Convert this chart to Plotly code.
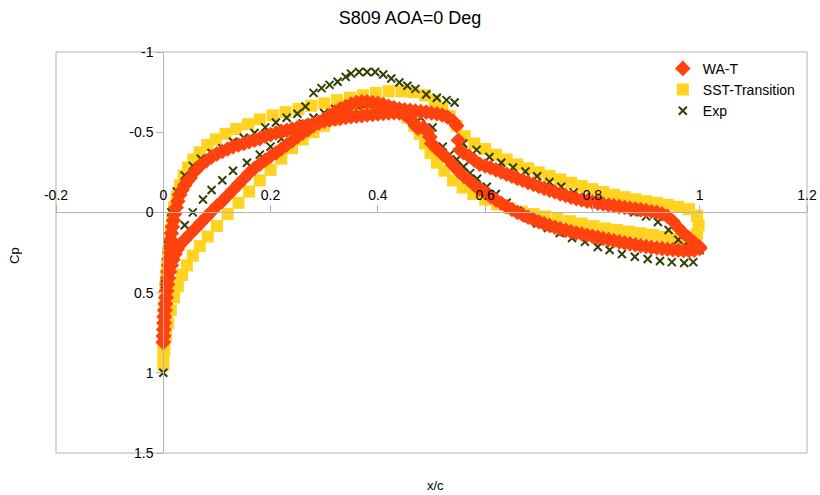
import plotly.graph_objects as go

# ---- WA-T (CFD) surface pressure, suction side ----
wat_upper_x = [0.0, 0.0005, 0.001, 0.0015, 0.002, 0.003, 0.004, 0.005, 0.006, 0.008,
               0.010, 0.012, 0.015, 0.018, 0.022, 0.026, 0.03, 0.04, 0.05, 0.06,
               0.07, 0.08, 0.09, 0.10, 0.11, 0.12, 0.13, 0.14, 0.15, 0.16,
               0.17, 0.18, 0.19, 0.20, 0.21, 0.22, 0.23, 0.24, 0.25, 0.26,
               0.27, 0.28, 0.29, 0.30, 0.31, 0.32, 0.33, 0.34, 0.35, 0.36,
               0.37, 0.38, 0.39, 0.40, 0.41, 0.42, 0.43, 0.44, 0.45, 0.46,
               0.47, 0.48, 0.49, 0.50, 0.51, 0.52, 0.53, 0.54, 0.547, 0.55,
               0.553, 0.56, 0.57, 0.58, 0.59, 0.60, 0.61, 0.62, 0.63, 0.64,
               0.65, 0.66, 0.67, 0.68, 0.69, 0.70, 0.71, 0.72, 0.73, 0.74,
               0.75, 0.76, 0.77, 0.78, 0.79, 0.80, 0.81, 0.82, 0.83, 0.84,
               0.85, 0.86, 0.87, 0.88, 0.89, 0.90, 0.91, 0.92, 0.93, 0.94,
               0.95, 0.96, 0.97, 0.98, 0.99, 1.0]
wat_upper_cp = [0.81, 0.77, 0.73, 0.69, 0.65, 0.61, 0.57, 0.53, 0.49, 0.45,
                0.41, 0.37, 0.33, 0.295, 0.26, 0.23, 0.205, 0.17, 0.135, 0.10,
                0.065, 0.03, -0.005, -0.04, -0.07, -0.105, -0.14, -0.175, -0.21, -0.245,
                -0.275, -0.30, -0.325, -0.35, -0.37, -0.395, -0.42, -0.445, -0.47, -0.495,
                -0.515, -0.54, -0.56, -0.58, -0.605, -0.625, -0.645, -0.66, -0.675, -0.685,
                -0.69, -0.69, -0.685, -0.68, -0.672, -0.662, -0.652, -0.645, -0.64, -0.636,
                -0.632, -0.628, -0.625, -0.62, -0.615, -0.607, -0.595, -0.57, -0.54, -0.45,
                -0.39, -0.37, -0.35, -0.325, -0.30, -0.29, -0.278, -0.265, -0.252, -0.238,
                -0.225, -0.212, -0.2, -0.187, -0.175, -0.162, -0.15, -0.138, -0.127, -0.115,
                -0.105, -0.095, -0.085, -0.077, -0.07, -0.064, -0.058, -0.052, -0.046, -0.041,
                -0.036, -0.031, -0.026, -0.021, -0.016, -0.011, -0.006, 0.0, 0.01, 0.025,
                0.055, 0.095, 0.13, 0.16, 0.19, 0.215]

# ---- WA-T (CFD) surface pressure, pressure side ----
wat_lower_x = [0.0, 0.0005, 0.001, 0.0015, 0.002, 0.003, 0.004, 0.005, 0.006, 0.007,
               0.008, 0.009, 0.010, 0.011, 0.012, 0.013, 0.014, 0.015, 0.017, 0.019,
               0.021, 0.024, 0.027, 0.031, 0.035, 0.04, 0.045, 0.05, 0.06, 0.07,
               0.08, 0.09, 0.10, 0.11, 0.12, 0.13, 0.14, 0.15, 0.16, 0.17,
               0.18, 0.19, 0.20, 0.21, 0.22, 0.23, 0.24, 0.25, 0.26, 0.27,
               0.28, 0.29, 0.30, 0.31, 0.32, 0.33, 0.34, 0.35, 0.36, 0.37,
               0.38, 0.39, 0.40, 0.41, 0.42, 0.43, 0.44, 0.45, 0.46, 0.465,
               0.47, 0.475, 0.485, 0.492, 0.497, 0.50, 0.51, 0.52, 0.53, 0.54,
               0.55, 0.56, 0.57, 0.58, 0.59, 0.60, 0.61, 0.62, 0.63, 0.64,
               0.65, 0.66, 0.67, 0.68, 0.69, 0.70, 0.71, 0.72, 0.73, 0.74,
               0.75, 0.76, 0.77, 0.78, 0.79, 0.80, 0.81, 0.82, 0.83, 0.84,
               0.85, 0.86, 0.87, 0.88, 0.89, 0.90, 0.91, 0.92, 0.93, 0.94,
               0.95, 0.96, 0.97, 0.98, 0.99, 1.0]
wat_lower_cp = [0.81, 0.77, 0.73, 0.69, 0.65, 0.61, 0.57, 0.53, 0.49, 0.45,
                0.41, 0.37, 0.33, 0.29, 0.25, 0.21, 0.17, 0.13, 0.09, 0.05,
                0.01, -0.03, -0.07, -0.11, -0.14, -0.17, -0.195, -0.215, -0.26, -0.295,
                -0.32, -0.345, -0.365, -0.38, -0.395, -0.41, -0.42, -0.43, -0.44, -0.45,
                -0.46, -0.475, -0.485, -0.495, -0.505, -0.512, -0.52, -0.528, -0.535, -0.545,
                -0.553, -0.56, -0.57, -0.577, -0.582, -0.587, -0.592, -0.596, -0.60, -0.603,
                -0.607, -0.61, -0.614, -0.617, -0.62, -0.622, -0.62, -0.61, -0.59, -0.565,
                -0.54, -0.525, -0.53, -0.505, -0.47, -0.43, -0.395, -0.365, -0.335, -0.295,
                -0.26, -0.225, -0.2, -0.17, -0.145, -0.125, -0.1, -0.078, -0.057, -0.037,
                -0.018, 0.0, 0.015, 0.03, 0.045, 0.058, 0.07, 0.082, 0.093, 0.103,
                0.112, 0.12, 0.128, 0.135, 0.142, 0.149, 0.156, 0.163, 0.17, 0.177,
                0.184, 0.19, 0.196, 0.202, 0.208, 0.213, 0.218, 0.222, 0.226, 0.23,
                0.233, 0.236, 0.238, 0.238, 0.235, 0.225]

# ---- SST-Transition (CFD) ----
sst_upper_x = [0.0, 0.0, 0.0005, 0.001, 0.0015, 0.002, 0.003, 0.004, 0.005, 0.007,
               0.009, 0.011, 0.014, 0.017, 0.02, 0.025, 0.031, 0.038, 0.046, 0.056,
               0.068, 0.082, 0.098, 0.116, 0.136, 0.158, 0.18, 0.204, 0.228, 0.252,
               0.276, 0.30, 0.324, 0.348, 0.372, 0.396, 0.42, 0.444, 0.466, 0.488,
               0.506, 0.52, 0.534, 0.547, 0.562, 0.58, 0.60, 0.62, 0.64, 0.66,
               0.68, 0.70, 0.72, 0.74, 0.76, 0.78, 0.80, 0.82, 0.84, 0.86,
               0.88, 0.90, 0.92, 0.94, 0.96, 0.98, 0.995, 0.998, 0.995]
sst_upper_cp = [0.95, 0.88, 0.81, 0.74, 0.67, 0.6, 0.53, 0.46, 0.39, 0.32,
                0.25, 0.18, 0.11, 0.04, -0.03, -0.1, -0.17, -0.23, -0.28, -0.33,
                -0.375, -0.42, -0.455, -0.49, -0.52, -0.55, -0.58, -0.605, -0.625, -0.645,
                -0.665, -0.68, -0.7, -0.715, -0.73, -0.745, -0.755, -0.755, -0.75, -0.73,
                -0.695, -0.65, -0.6, -0.54, -0.475, -0.43, -0.395, -0.36, -0.33, -0.3,
                -0.275, -0.25, -0.228, -0.205, -0.185, -0.165, -0.145, -0.127, -0.11, -0.095,
                -0.082, -0.07, -0.06, -0.048, -0.035, -0.02, 0.02, 0.08, 0.135]
sst_lower_x = [0.002, 0.005, 0.009, 0.014, 0.02, 0.027, 0.035, 0.044, 0.055, 0.068,
               0.083, 0.1, 0.12, 0.14, 0.16, 0.18, 0.2, 0.22, 0.24, 0.26,
               0.28, 0.30, 0.32, 0.34, 0.36, 0.38, 0.40, 0.42, 0.44, 0.455,
               0.468, 0.478, 0.488, 0.498, 0.51, 0.524, 0.54, 0.558, 0.578, 0.60,
               0.622, 0.645, 0.668, 0.69, 0.712, 0.735, 0.758, 0.78, 0.802, 0.824,
               0.846, 0.868, 0.89, 0.912, 0.934, 0.956, 0.975]
sst_lower_cp = [0.86, 0.77, 0.69, 0.61, 0.53, 0.46, 0.39, 0.33, 0.27, 0.21,
                0.15, 0.085, 0.01, -0.06, -0.13, -0.2, -0.265, -0.335, -0.4, -0.455,
                -0.5, -0.54, -0.575, -0.6, -0.62, -0.64, -0.65, -0.65, -0.63, -0.59,
                -0.54, -0.49, -0.43, -0.37, -0.31, -0.26, -0.2, -0.155, -0.115, -0.08,
                -0.05, -0.025, -0.005, 0.01, 0.025, 0.04, 0.055, 0.07, 0.085, 0.1,
                0.11, 0.12, 0.13, 0.14, 0.152, 0.165, 0.175]

# ---- Experiment ----
exp_upper_x = [0.0, 0.003, 0.008, 0.015, 0.025, 0.04, 0.055, 0.07, 0.09, 0.11,
               0.13, 0.15, 0.17, 0.19, 0.21, 0.23, 0.25, 0.265, 0.28, 0.295,
               0.31, 0.325, 0.34, 0.35, 0.365, 0.38, 0.395, 0.41, 0.425, 0.44,
               0.455, 0.47, 0.49, 0.51, 0.528, 0.543, 0.559, 0.584, 0.608, 0.63,
               0.652, 0.675, 0.697, 0.72, 0.742, 0.765, 0.788, 0.81, 0.833, 0.856,
               0.878, 0.9, 0.922, 0.942, 0.96, 0.98]
exp_upper_cp = [1.0, 0.45, 0.2, 0.0, -0.13, -0.23, -0.29, -0.335, -0.37, -0.40,
                -0.44, -0.465, -0.495, -0.53, -0.56, -0.59, -0.615, -0.66, -0.745, -0.775,
                -0.795, -0.815, -0.845, -0.865, -0.875, -0.875, -0.875, -0.86, -0.835, -0.81,
                -0.79, -0.77, -0.735, -0.715, -0.70, -0.685, -0.43, -0.39, -0.345, -0.31,
                -0.28, -0.255, -0.225, -0.19, -0.16, -0.125, -0.095, -0.07, -0.045, -0.02,
                0.0, 0.025, 0.06, 0.11, 0.17, 0.215]
exp_lower_x = [0.003, 0.008, 0.015, 0.025, 0.04, 0.055, 0.074, 0.09, 0.11, 0.13,
               0.156, 0.18, 0.2, 0.22, 0.24, 0.26, 0.28, 0.30, 0.32, 0.34,
               0.36, 0.38, 0.40, 0.42, 0.44, 0.46, 0.48, 0.502, 0.521, 0.534,
               0.547, 0.56, 0.572, 0.585, 0.603, 0.62, 0.64, 0.66, 0.68, 0.697,
               0.717, 0.739, 0.762, 0.786, 0.81, 0.832, 0.855, 0.879, 0.903, 0.926,
               0.948, 0.971, 0.988, 1.0]
exp_lower_cp = [0.7, 0.5, 0.33, 0.2, 0.08, 0.0, -0.08, -0.14, -0.2, -0.26,
                -0.31, -0.36, -0.41, -0.46, -0.51, -0.555, -0.59, -0.62, -0.645, -0.66,
                -0.67, -0.675, -0.675, -0.665, -0.65, -0.625, -0.59, -0.53, -0.41, -0.36,
                -0.33, -0.285, -0.245, -0.21, -0.16, -0.115, -0.06, -0.01, 0.035, 0.07,
                0.097, 0.128, 0.16, 0.184, 0.216, 0.234, 0.26, 0.277, 0.29, 0.303,
                0.31, 0.315, 0.31, 0.234]

# ---- axis ticks ----
x_tick_vals = [-0.2, 0, 0.2, 0.4, 0.6, 0.8, 1, 1.2]
x_tick_text = ["-0.2", "0", "0.2", "0.4", "0.6", "0.8", "1", "1.2"]
y_tick_vals = [-1, -0.5, 0, 0.5, 1, 1.5]
y_tick_text = ["-1", "-0.5", "0", "0.5", "1", "1.5"]

FONT = "Liberation Sans, Arial, sans-serif"
AXIS_GREY = "#b3b3b3"

fig = go.Figure()

fig.add_trace(go.Scatter(
    x=sst_upper_x + sst_lower_x, y=sst_upper_cp + sst_lower_cp,
    mode="markers", name="SST-Transition", legendrank=2,
    marker=dict(symbol="square", size=12, color="#ffd320", line=dict(width=0)),
))
fig.add_trace(go.Scatter(
    x=exp_upper_x + exp_lower_x, y=exp_upper_cp + exp_lower_cp,
    mode="markers", name="Exp", legendrank=3,
    marker=dict(symbol="x-thin", size=8, color="#314004",
                line=dict(width=2, color="#314004")),
))
fig.add_trace(go.Scatter(
    x=wat_upper_x + wat_lower_x, y=wat_upper_cp + wat_lower_cp,
    mode="markers", name="WA-T", legendrank=1,
    marker=dict(symbol="diamond", size=12, color="#ff420e", line=dict(width=0)),
))

# plot frame
fig.add_shape(type="rect", xref="paper", yref="paper", x0=0, y0=0, x1=1, y1=1,
              line=dict(color=AXIS_GREY, width=1), layer="below")

axis_common = dict(
    showgrid=False, zeroline=False, showline=True, linecolor=AXIS_GREY, linewidth=1,
    ticks="outside", ticklen=7, tickwidth=1, tickcolor=AXIS_GREY,
    tickfont=dict(family=FONT, size=14, color="#000000"),
    anchor="free",
)

fig.update_layout(
    width=820, height=495,
    margin=dict(l=56, r=13, t=52, b=42, autoexpand=False),
    paper_bgcolor="white", plot_bgcolor="white",
    font=dict(family=FONT, color="#000000"),
    title=dict(text="S809 AOA=0 Deg", x=0.5, xref="container", xanchor="center",
               y=1 - 18 / 495, yref="container", yanchor="middle",
               font=dict(family=FONT, size=18, color="#000000")),
    xaxis=dict(range=[-0.2, 1.2], tickvals=x_tick_vals, ticktext=x_tick_text,
               side="top", position=0.6, **axis_common),
    yaxis=dict(range=[1.5, -1], tickvals=y_tick_vals, ticktext=y_tick_text,
               side="left", position=0.2 / 1.4, **axis_common),
    legend=dict(x=0.808, y=0.998, xanchor="left", yanchor="top",
                font=dict(family=FONT, size=14, color="#000000"),
                bgcolor="rgba(0,0,0,0)", tracegroupgap=0),
    showlegend=True,
)

fig.add_annotation(text="x/c", xref="paper", yref="paper", x=0.505, y=-0.08,
                   showarrow=False, xanchor="center", yanchor="middle",
                   font=dict(family=FONT, size=13, color="#000000"))
fig.add_annotation(text="Cp", xref="paper", yref="paper", x=-0.0546, y=0.494,
                   showarrow=False, textangle=-90, xanchor="center", yanchor="middle",
                   font=dict(family=FONT, size=13, color="#000000"))

fig.write_html("out.html")
